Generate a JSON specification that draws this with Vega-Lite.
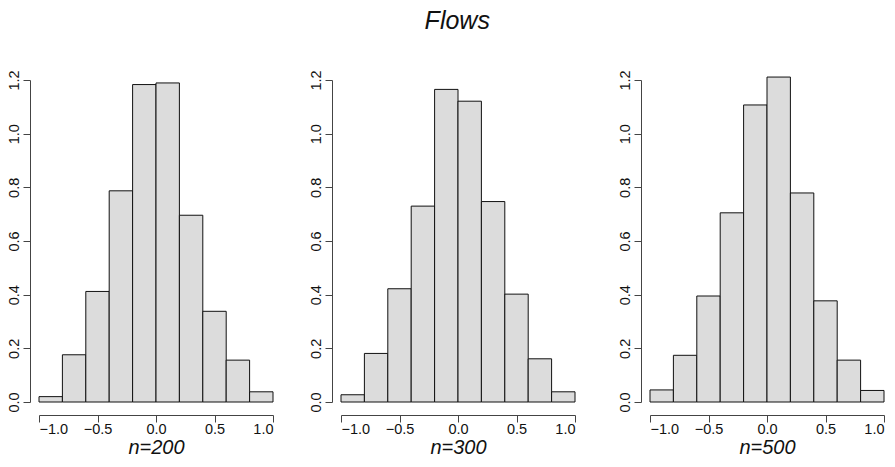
{
  "$schema": "https://vega.github.io/schema/vega-lite/v6.json",
  "background": "white",
  "padding": {"left": 6, "top": 8, "right": 5, "bottom": 0},
  "title": {"text": "Flows", "font": "Liberation Sans", "fontSize": 25, "fontStyle": "italic", "fontWeight": "normal", "color": "#111", "anchor": "middle", "offset": 36, "dx": 12},
  "config": {
    "view": {"stroke": null},
    "font": "Liberation Sans",
    "axis": {"grid": false, "domainColor": "#444", "tickColor": "#444", "tickSize": 7, "labelFont": "Liberation Sans", "labelFontSize": 14.5, "labelColor": "#111", "titleFont": "Liberation Sans", "titleFontSize": 20, "titleFontStyle": "italic", "titleFontWeight": "normal", "titleColor": "#111"}
  },
  "data": {"values": [
    {"panel": "n=200", "b0": -1.0, "b1": -0.8, "d": 0.020},
    {"panel": "n=200", "b0": -0.8, "b1": -0.6, "d": 0.176},
    {"panel": "n=200", "b0": -0.6, "b1": -0.4, "d": 0.412},
    {"panel": "n=200", "b0": -0.4, "b1": -0.2, "d": 0.787},
    {"panel": "n=200", "b0": -0.2, "b1": 0.0, "d": 1.183},
    {"panel": "n=200", "b0": 0.0, "b1": 0.2, "d": 1.189},
    {"panel": "n=200", "b0": 0.2, "b1": 0.4, "d": 0.696},
    {"panel": "n=200", "b0": 0.4, "b1": 0.6, "d": 0.338},
    {"panel": "n=200", "b0": 0.6, "b1": 0.8, "d": 0.156},
    {"panel": "n=200", "b0": 0.8, "b1": 1.0, "d": 0.038},
    {"panel": "n=300", "b0": -1.0, "b1": -0.8, "d": 0.027},
    {"panel": "n=300", "b0": -0.8, "b1": -0.6, "d": 0.181},
    {"panel": "n=300", "b0": -0.6, "b1": -0.4, "d": 0.422},
    {"panel": "n=300", "b0": -0.4, "b1": -0.2, "d": 0.730},
    {"panel": "n=300", "b0": -0.2, "b1": 0.0, "d": 1.165},
    {"panel": "n=300", "b0": 0.0, "b1": 0.2, "d": 1.121},
    {"panel": "n=300", "b0": 0.2, "b1": 0.4, "d": 0.747},
    {"panel": "n=300", "b0": 0.4, "b1": 0.6, "d": 0.402},
    {"panel": "n=300", "b0": 0.6, "b1": 0.8, "d": 0.161},
    {"panel": "n=300", "b0": 0.8, "b1": 1.0, "d": 0.038},
    {"panel": "n=500", "b0": -1.0, "b1": -0.8, "d": 0.045},
    {"panel": "n=500", "b0": -0.8, "b1": -0.6, "d": 0.174},
    {"panel": "n=500", "b0": -0.6, "b1": -0.4, "d": 0.395},
    {"panel": "n=500", "b0": -0.4, "b1": -0.2, "d": 0.705},
    {"panel": "n=500", "b0": -0.2, "b1": 0.0, "d": 1.107},
    {"panel": "n=500", "b0": 0.0, "b1": 0.2, "d": 1.211},
    {"panel": "n=500", "b0": 0.2, "b1": 0.4, "d": 0.779},
    {"panel": "n=500", "b0": 0.4, "b1": 0.6, "d": 0.377},
    {"panel": "n=500", "b0": 0.6, "b1": 0.8, "d": 0.156},
    {"panel": "n=500", "b0": 0.8, "b1": 1.0, "d": 0.043}
  ]},
  "spacing": 41,
  "hconcat": [
    {
      "spacing": 34,
      "hconcat": [
        {
          "width": 234, "height": 322,
          "transform": [{"filter": "datum.panel === 'n=200'"}],
          "mark": {"type": "rect", "fill": "#dcdcdc", "stroke": "#111", "strokeWidth": 1},
          "encoding": {
            "x": {"field": "b0", "type": "quantitative", "scale": {"domain": [-1, 1], "nice": false, "zero": false}, "axis": {"title": "n=200", "values": [-1, -0.5, 0, 0.5, 1], "format": ".1f", "offset": 13, "labelPadding": 0, "titlePadding": 2}},
            "x2": {"field": "b1"},
            "y": {"field": "d", "type": "quantitative", "scale": {"domain": [0, 1.2], "nice": false}, "axis": {"title": null, "values": [0, 0.2, 0.4, 0.6, 0.8, 1.0, 1.2], "format": ".1f", "offset": 9, "labelAngle": 270, "labelAlign": "center", "labelBaseline": "bottom", "labelPadding": 2}},
            "y2": {"datum": 0}
          }
        },
        {
          "width": 234, "height": 322,
          "transform": [{"filter": "datum.panel === 'n=300'"}],
          "mark": {"type": "rect", "fill": "#dcdcdc", "stroke": "#111", "strokeWidth": 1},
          "encoding": {
            "x": {"field": "b0", "type": "quantitative", "scale": {"domain": [-1, 1], "nice": false, "zero": false}, "axis": {"title": "n=300", "values": [-1, -0.5, 0, 0.5, 1], "format": ".1f", "offset": 13, "labelPadding": 0, "titlePadding": 2}},
            "x2": {"field": "b1"},
            "y": {"field": "d", "type": "quantitative", "scale": {"domain": [0, 1.2], "nice": false}, "axis": {"title": null, "values": [0, 0.2, 0.4, 0.6, 0.8, 1.0, 1.2], "format": ".1f", "offset": 9, "labelAngle": 270, "labelAlign": "center", "labelBaseline": "bottom", "labelPadding": 2}},
            "y2": {"datum": 0}
          }
        }
      ]
    },
    {
      "width": 234, "height": 322,
      "transform": [{"filter": "datum.panel === 'n=500'"}],
      "mark": {"type": "rect", "fill": "#dcdcdc", "stroke": "#111", "strokeWidth": 1},
      "encoding": {
        "x": {"field": "b0", "type": "quantitative", "scale": {"domain": [-1, 1], "nice": false, "zero": false}, "axis": {"title": "n=500", "values": [-1, -0.5, 0, 0.5, 1], "format": ".1f", "offset": 13, "labelPadding": 0, "titlePadding": 2}},
        "x2": {"field": "b1"},
        "y": {"field": "d", "type": "quantitative", "scale": {"domain": [0, 1.2], "nice": false}, "axis": {"title": null, "values": [0, 0.2, 0.4, 0.6, 0.8, 1.0, 1.2], "format": ".1f", "offset": 9, "labelAngle": 270, "labelAlign": "center", "labelBaseline": "bottom", "labelPadding": 2}},
        "y2": {"datum": 0}
      }
    }
  ]
}
